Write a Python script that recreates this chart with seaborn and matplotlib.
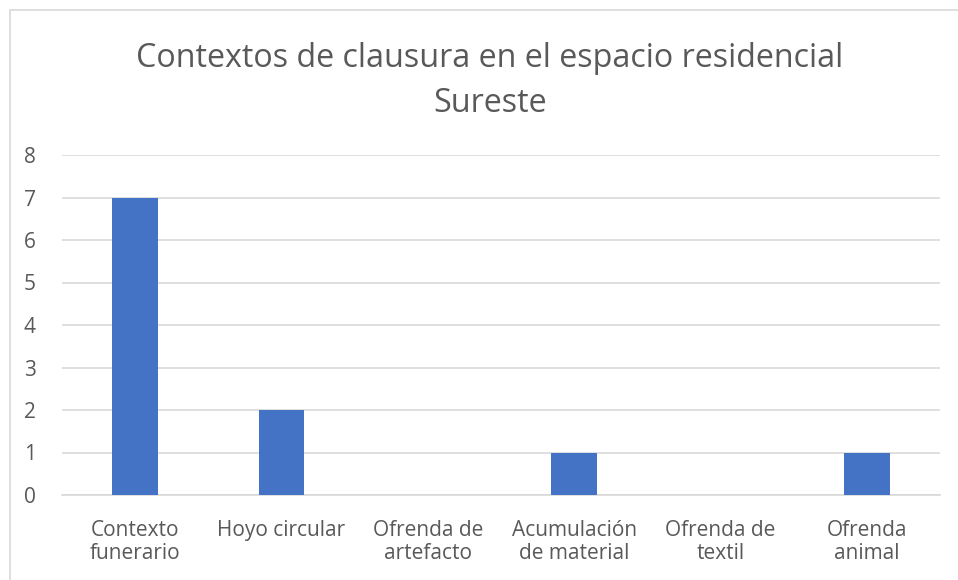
import matplotlib
matplotlib.use("Agg")
import matplotlib.pyplot as plt
import seaborn as sns
import pandas as pd
from matplotlib.patches import Rectangle

categories = ["Contexto\nfunerario", "Hoyo circular", "Ofrenda de\nartefacto",
              "Acumulación\nde material", "Ofrenda de\ntextil", "Ofrenda\nanimal"]
values = [7, 2, 0, 1, 0, 1]
yticks = [0, 1, 2, 3, 4, 5, 6, 7, 8]
title = "Contextos de clausura en el espacio residencial\nSureste"

df = pd.DataFrame({"cat": categories, "val": values})

sns.set_theme(style="white")
plt.rcParams['font.family'] = ['Open Sans', 'DejaVu Sans']

fig = plt.figure(figsize=(9.58, 5.8), dpi=100)
fig.patch.set_facecolor("white")
ax = fig.add_axes([62/958, 1-495/580, (940-62)/958, (495-155)/580])

sns.barplot(data=df, x="cat", y="val", color="#4472C4", width=0.31,
            saturation=1, ax=ax, zorder=3, linewidth=0)
ax.set_ylim(0, 8)
ax.set_yticks(yticks)
ax.set_xlim(-0.5, len(categories) - 0.5)
ax.yaxis.grid(True, color="#D9D9D9", linewidth=1.2, zorder=0)
ax.set_axisbelow(True)
for s in ["top", "right", "left"]:
    ax.spines[s].set_visible(False)
ax.spines["bottom"].set_color("#D9D9D9")
ax.spines["bottom"].set_linewidth(1.2)
ax.set_xlabel("")
ax.set_ylabel("")
ax.tick_params(axis="both", length=0, labelsize=15, colors="#595959")
ax.tick_params(axis="x", pad=18)
ax.tick_params(axis="y", pad=19)
for lbl in ax.get_xticklabels():
    lbl.set_linespacing(1.15)

fig.text(490/958, 1-81/580, title, ha="center", va="center", fontsize=23.2,
         color="#595959", linespacing=1.5)

fig.patches.append(Rectangle((10/958, -0.1), 1.2, 1-10/580+0.1, transform=fig.transFigure,
                             fill=False, edgecolor="#D9D9D9", linewidth=1.2))

fig.savefig("out.png", dpi=100, facecolor="white")
